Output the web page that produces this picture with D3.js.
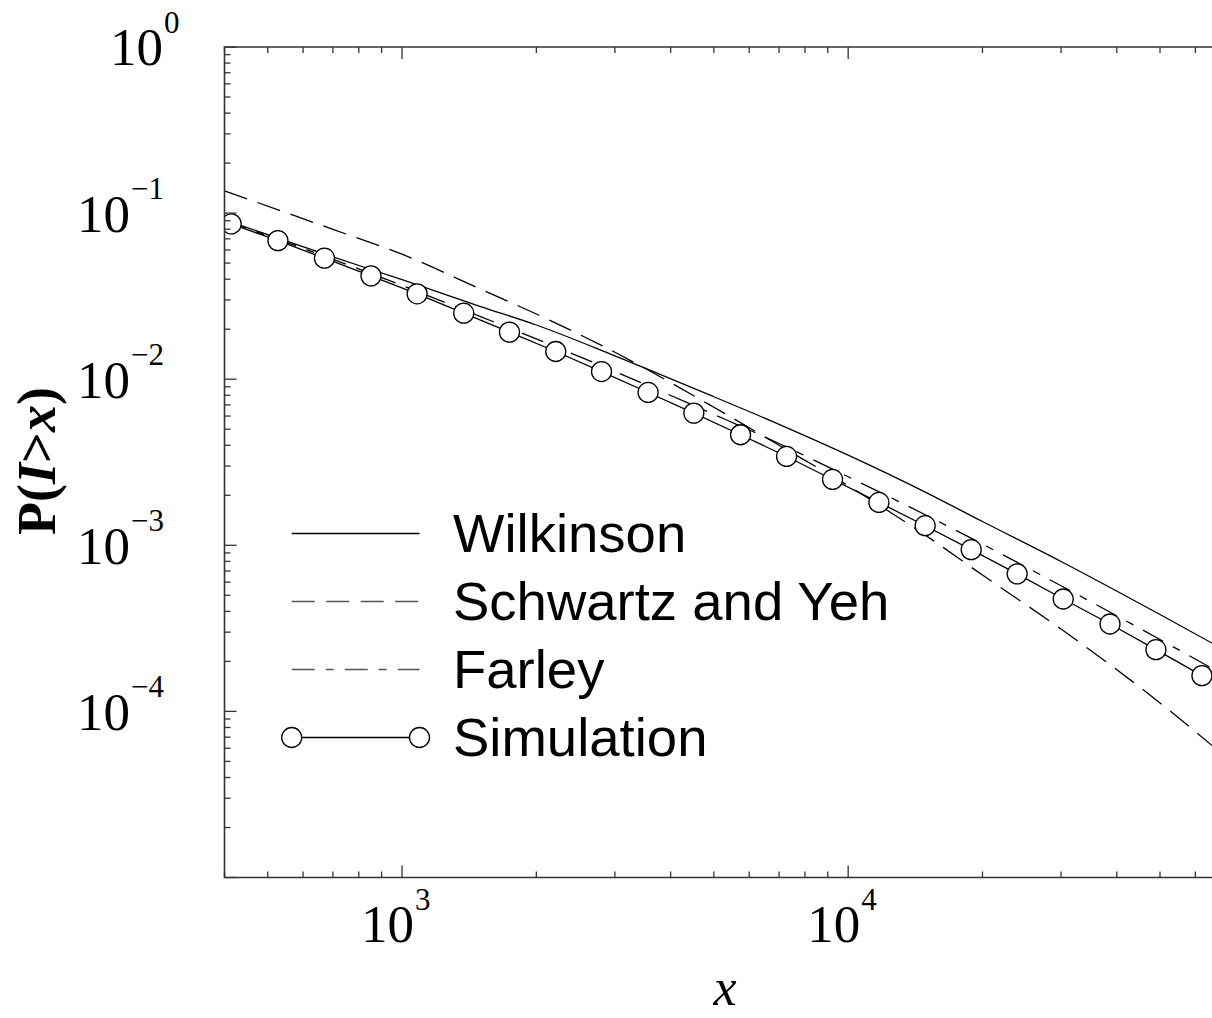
<!DOCTYPE html>
<html><head><meta charset="utf-8">
<script src="https://cdn.jsdelivr.net/npm/d3@7"></script>
<style>html,body{margin:0;padding:0;background:#fff;} svg{display:block;}</style>
</head><body>
<script>
// ---- data ----
const simX = [414, 527, 670, 852, 1081, 1375, 1741, 2211, 2800, 3561, 4509, 5738, 7277, 9226, 11720, 14880, 18870, 23920, 30340, 38630, 48960, 62090];
const simY = [0.0861, 0.0683, 0.0535, 0.0419, 0.03265, 0.02498, 0.0192, 0.01468, 0.01112, 0.00832, 0.00625, 0.00463, 0.003426, 0.002491, 0.001812, 0.001312, 0.000941, 0.000673, 0.000475, 0.000336, 0.0002353, 0.0001642];
const curveX = [400, 700, 1000, 1500, 2000, 3000, 5000, 7000, 10000, 15000, 20000, 30000, 50000, 70000];
const wilkinsonY = [0.0910, 0.0545, 0.0397, 0.02734, 0.0212, 0.01383, 0.00784, 0.00535, 0.00349, 0.00207, 0.00139, 0.000799, 0.000383, 0.000233];
const schwartzY = [0.1362, 0.0798, 0.05657, 0.03484, 0.02468, 0.01452, 0.00678, 0.00400, 0.00228, 0.001135, 0.000662, 0.000313, 0.0001125, 0.0000535];
const farleyY = [0.0901, 0.0527, 0.03667, 0.02379, 0.01748, 0.01112, 0.00614, 0.004102, 0.002587, 0.001511, 0.001017, 0.000571, 0.000271, 0.0001638];
const xTickExps = [3, 4];
const yTickExps = [0, -1, -2, -3, -4];
const legendNames = ["Wilkinson", "Schwartz and Yeh", "Farley", "Simulation"];

// ---- layout ----
const W = 1212, H = 1018;
const L = 224.5, R = 1225.2, T = 47, B = 877.5;
const svg = d3.select("body").append("svg").attr("width", W).attr("height", H);
const x = d3.scaleLog().domain([400, 70000]).range([L, R]);
const y = d3.scaleLog().domain([1e-5, 1]).range([B, T]);
const axisColor = "#333";
const serif = "'Liberation Serif','Times New Roman',Times,serif";
const sans = "'Liberation Sans',Arial,Helvetica,sans-serif";

svg.append("defs").append("clipPath").attr("id", "clip")
  .append("rect").attr("x", L).attr("y", T).attr("width", R - L).attr("height", B - T);

// curves
const styles = [
  { dash: null },
  { dash: "24,11" },
  { dash: "23,11,8,11" },
];
const series = [wilkinsonY, schwartzY, farleyY];
const line = d3.line().x(d => x(d[0])).y(d => y(d[1])).curve(d3.curveMonotoneX);
const plot = svg.append("g").attr("clip-path", "url(#clip)");
series.forEach((ys, i) => {
  plot.append("path")
    .datum(curveX.map((v, j) => [v, ys[j]]))
    .attr("d", line)
    .attr("fill", "none").attr("stroke", "#000").attr("stroke-width", 1.3)
    .attr("stroke-dasharray", styles[i].dash);
});
const simData = simX.map((v, j) => [v, simY[j]]);
plot.append("path").datum(simData)
  .attr("d", d3.line().x(d => x(d[0])).y(d => y(d[1])))
  .attr("fill", "none").attr("stroke", "#000").attr("stroke-width", 1.3);
plot.selectAll("circle.sim").data(simData).enter().append("circle")
  .attr("cx", d => x(d[0])).attr("cy", d => y(d[1])).attr("r", 10)
  .attr("fill", "#fff").attr("stroke", "#000").attr("stroke-width", 1.3);

// frame
svg.append("path")
  .attr("d", `M${R},${T}H${L}V${B}H${R}V${T}`)
  .attr("fill", "none").attr("stroke", axisColor).attr("stroke-width", 1.6);

// ticks
const isMajor = v => Math.abs(Math.log10(v) - Math.round(Math.log10(v))) < 1e-9;
x.ticks().forEach(v => {
  const len = isMajor(v) ? 12 : 6;
  const px = x(v);
  svg.append("line").attr("x1", px).attr("x2", px).attr("y1", B).attr("y2", B - len)
    .attr("stroke", axisColor).attr("stroke-width", 1.3);
  svg.append("line").attr("x1", px).attr("x2", px).attr("y1", T).attr("y2", T + len)
    .attr("stroke", axisColor).attr("stroke-width", 1.3);
});
y.ticks().forEach(v => {
  const len = isMajor(v) ? 12 : 6;
  const py = y(v);
  svg.append("line").attr("x1", L).attr("x2", L + len).attr("y1", py).attr("y2", py)
    .attr("stroke", axisColor).attr("stroke-width", 1.3);
  svg.append("line").attr("x1", R).attr("x2", R - len).attr("y1", py).attr("y2", py)
    .attr("stroke", axisColor).attr("stroke-width", 1.3);
});

// x tick labels
xTickExps.forEach(e => {
  const px = x(Math.pow(10, e)) + 12;
  svg.append("text").attr("x", px).attr("y", 941.7).attr("text-anchor", "end")
    .attr("font-family", serif).attr("font-size", 53).text("10");
  svg.append("text").attr("x", px + 1).attr("y", 910).attr("text-anchor", "start")
    .attr("font-family", serif).attr("font-size", 31).text(String(e));
});
// y tick labels
yTickExps.forEach(e => {
  const py = y(Math.pow(10, e));
  const px = e === 0 ? 163 : 130;
  svg.append("text").attr("x", px).attr("y", py + 18.4).attr("text-anchor", "end")
    .attr("font-family", serif).attr("font-size", 53).text("10");
  svg.append("text").attr("x", px + 1).attr("y", py - 14.2).attr("text-anchor", "start")
    .attr("font-family", serif).attr("font-size", 31).text(e === 0 ? "0" : "\u2212" + Math.abs(e));
});

// axis titles
const yl = svg.append("text").attr("transform", "translate(55,461) rotate(-90)")
  .attr("text-anchor", "middle").attr("font-family", serif).attr("font-size", 54)
  .attr("font-weight", "bold");
yl.append("tspan").text("P(");
yl.append("tspan").attr("font-style", "italic").text("I");
yl.append("tspan").text(">");
yl.append("tspan").attr("font-style", "italic").text("x");
yl.append("tspan").text(")");
svg.append("text").attr("x", 725).attr("y", 1005).attr("text-anchor", "middle")
  .attr("font-family", serif).attr("font-size", 52).attr("font-style", "italic").text("x");

// legend
const lx1 = 291.7, lx2 = 419.5, ly0 = 533.5, lstep = 68;
legendNames.forEach((name, i) => {
  const ly = ly0 + i * lstep;
  const g = svg.append("g");
  g.append("line").attr("x1", lx1).attr("x2", lx2).attr("y1", ly).attr("y2", ly)
    .attr("stroke", i === 0 || i === 3 ? "#000" : "#555").attr("stroke-width", 1.3)
    .attr("stroke-dasharray", i === 1 ? "23,11.5" : i === 2 ? "23,11,8,11" : null);
  if (i === 3) {
    [lx1, lx2].forEach(cx => g.append("circle").attr("cx", cx).attr("cy", ly).attr("r", 10)
      .attr("fill", "#fff").attr("stroke", "#000").attr("stroke-width", 1.3));
  }
  g.append("text").attr("x", 453).attr("y", ly + 18.3)
    .attr("font-family", sans).attr("font-size", 54.5).attr("fill", "#000").text(name);
});
</script>
</body></html>
